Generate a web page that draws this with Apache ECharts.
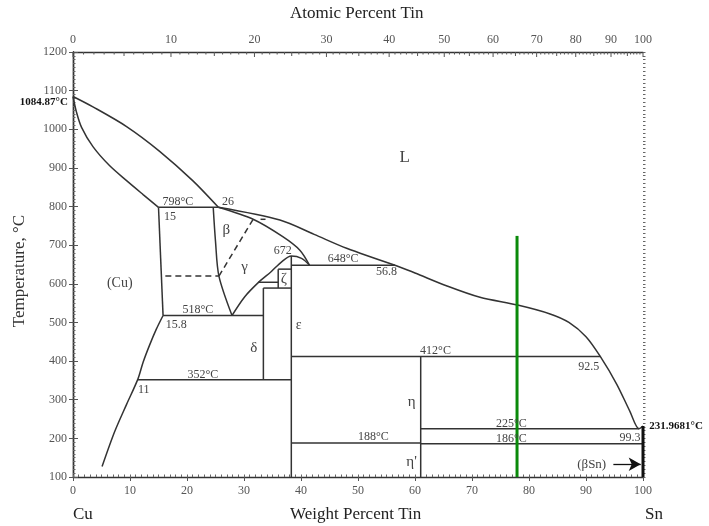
<!DOCTYPE html>
<html><head><meta charset="utf-8">
<script src="https://cdn.jsdelivr.net/npm/echarts@6/dist/echarts.min.js"></script>
<style>html,body{margin:0;padding:0;background:#fff}#c{width:709px;height:526px}</style>
</head><body><div id="c"></div>
<script>
// ---- axes ----
const wtMin = 0, wtMax = 100;
const tMin = 100, tMax = 1200;
const atomicTickLabels = [0,10,20,30,40,50,60,70,80,90,100];
const ATW_SN = 118.71, ATW_CU = 63.546;

// ---- phase boundaries (wt% Sn, °C) ----
const liquidusCu   = [[0,1084.87],[3.5,1058],[9.4,1007],[15.2,943],[21,867],[25.5,798]];
const liquidusMid  = [[25.5,798],[36.3,765],[42.3,728],[48,692],[56.5,648]];
const liquidusSn   = [[56.5,648],[60,628],[65.5,595],[71.4,565],[78,545],[83.7,522],[87,500],[90,463],[92.5,412],[95.4,340],[97.7,270],[99.3,225],[100,231.97]];
const solidusCu    = [[0,1084.87],[0.6,1045],[1.5,1005],[3.5,955],[6.4,906],[9.4,867],[12.3,831],[15,798]];
const alphaSolvusHigh = [[15,798],[15.8,518]];
const alphaSolvusLow  = [[15.8,518],[14.6,482],[13.4,440],[12.3,397],[11.4,354],[9.4,288],[7.3,217],[5.1,127]];
const betaLeft     = [[24.6,798],[25.0,710],[25.6,620],[27.9,518]];
const betaUpper    = [[25.5,798],[31.6,767],[36.8,722],[39.8,687],[41.5,648]];
const gammaDome    = [[27.9,518],[30.1,566],[32.5,603],[34.8,632],[36.6,657],[38.3,672],[40.1,666],[41.5,648]];
const iso798 = [[15,798],[25.5,798]];
const iso648 = [[38.3,648],[56.5,648]];
const iso518 = [[15.8,518],[33.4,518]];
const iso352 = [[11.4,352],[38.3,352]];
const iso412 = [[38.3,412],[92.5,412]];
const iso225 = [[61,225],[99.3,225]];
const iso188 = [[38.3,188],[61,188]];
const iso186 = [[61,186],[100,186]];
const deltaVert = [[33.4,352],[33.4,589]];
const iso589 = [[33.4,589],[38.3,589]];
const iso604 = [[32.5,604],[36,604]];
const zetaVert = [[36,589],[36,638]];
const iso638 = [[36,638],[38.3,638]];
const epsilonVert = [[38.3,100],[38.3,672]];
const etaVert = [[61,100],[61,412]];
const snVert = [[100,100],[100,232]];
const dash620 = [[16.2,620],[25.6,620]];
const dashBetaGamma = [[25.6,620],[31.6,767]];
const dashSmall = [[32.9,767],[34.2,767]];
const greenLine = [[77.9,100],[77.9,724]];
const arrowSn = [[94.8,133],[99.6,133]];

// ---- annotations: text, wt%, °C, font size, weight, align ----
const annotations = [
  ['L',58.2,926,17,'normal','center'],
  ['(Cu)',8.2,601,14,'normal','center'],
  ['β',26.9,739,15,'normal','center'],
  ['γ',30.1,644,15,'normal','center'],
  ['ζ',37.0,612,15,'normal','center'],
  ['δ',31.7,433,15,'normal','center'],
  ['ε',39.6,493,14,'normal','center'],
  ['η',59.4,294,15,'normal','center'],
  ["η'",59.4,139,15,'normal','center'],
  ['(βSn)',91.0,133,13,'normal','center'],
  ['798°C',18.4,813,12,'normal','center'],
  ['26',27.2,813,12,'normal','center'],
  ['15',17.0,774,12,'normal','center'],
  ['672',36.8,686,12,'normal','center'],
  ['648°C',47.4,664,12,'normal','center'],
  ['56.8',55.0,630,12,'normal','center'],
  ['518°C',21.9,532,12,'normal','center'],
  ['15.8',18.1,493,12,'normal','center'],
  ['352°C',22.8,364,12,'normal','center'],
  ['11',12.4,325,12,'normal','center'],
  ['412°C',63.6,426,12,'normal','center'],
  ['92.5',90.5,385,12,'normal','center'],
  ['225°C',76.9,238,12,'normal','center'],
  ['186°C',76.9,200,12,'normal','center'],
  ['188°C',52.7,205,12,'normal','center'],
  ['99.3',97.7,202,12,'normal','center'],
  ['1084.87°C',-0.9,1071,11,'bold','right'],
  ['231.9681°C',101.1,231.97,11,'bold','left']
];

const FONT = '"Liberation Serif","DejaVu Serif",serif';
const LINE = '#333';

function at2wt(a){ return 100*a*ATW_SN/(a*ATW_SN+(100-a)*ATW_CU); }

function lineSeries(data, opts){
  opts = opts || {};
  return {
    type:'line', data:data, symbol:'none', silent:true, animation:false,
    xAxisIndex:0, yAxisIndex:0, clip:false,
    smooth: opts.smooth || false,
    lineStyle:{color: opts.color||LINE, width: opts.width||1.5, type: opts.type||'solid'},
    z: opts.z || 3
  };
}

const series = [
  lineSeries(liquidusCu,{smooth:0.3}),
  lineSeries(liquidusMid,{smooth:0.3}),
  lineSeries(liquidusSn,{smooth:0.3}),
  lineSeries(solidusCu,{smooth:0.3}),
  lineSeries(alphaSolvusHigh),
  lineSeries(alphaSolvusLow,{smooth:0.3}),
  lineSeries(betaLeft,{smooth:0.3}),
  lineSeries(betaUpper,{smooth:0.3}),
  lineSeries(gammaDome,{smooth:0.3}),
  lineSeries(iso798), lineSeries(iso648), lineSeries(iso518), lineSeries(iso352),
  lineSeries(iso412), lineSeries(iso225), lineSeries(iso188), lineSeries(iso186),
  lineSeries(deltaVert), lineSeries(iso589), lineSeries(iso604), lineSeries(zetaVert), lineSeries(iso638),
  lineSeries(epsilonVert), lineSeries(etaVert),
  lineSeries(snVert,{width:3,color:'#111'}),
  lineSeries(dash620,{type:[6,4]}),
  lineSeries(dashBetaGamma,{type:[6,4]}),
  lineSeries(dashSmall,{type:[5,3]}),
  lineSeries(greenLine,{color:'#0a8a0a',width:3,z:5}),
  {
    type:'line', data:[], symbol:'none', silent:true, animation:false,
    markLine:{
      silent:true, animation:false, symbol:['none','arrow'], symbolSize:[10,12],
      label:{show:false}, lineStyle:{color:'#111',width:1.3,type:'solid'},
      data:[[{coord:arrowSn[0]},{coord:arrowSn[1]}]]
    }
  },
  {
    type:'custom', xAxisIndex:0, yAxisIndex:0, silent:true, animation:false, clip:false, z:6,
    data: annotations.map(a=>[a[1],a[2]]),
    renderItem:function(params, api){
      const a = annotations[params.dataIndex];
      const p = api.coord([api.value(0), api.value(1)]);
      return {type:'text', x:p[0], y:p[1], style:{
        text:a[0], fill: a[4]==='bold' ? '#111' : '#444',
        font: a[4]+' '+a[3]+'px '+FONT, align:a[5], verticalAlign:'middle'}};
    }
  },
  {
    type:'custom', xAxisIndex:0, yAxisIndex:0, silent:true, animation:false, clip:false, z:6,
    data: Array.from({length:101},(_,i)=>[i]),
    renderItem:function(params, api){
      const a = api.value(0);
      const p = api.coord([at2wt(a), tMax]);
      const len = (a%10===0) ? 5 : (a%5===0 ? 4 : 2.5);
      const children = [{type:'line', shape:{x1:p[0],y1:p[1],x2:p[0],y2:p[1]+len}, style:{stroke:'#555',lineWidth:1}}];
      if (atomicTickLabels.indexOf(a) >= 0) {
        children.push({type:'text', x:p[0], y:p[1]-12, style:{text:String(a), fill:'#555', font:'12px '+FONT, align:'center', verticalAlign:'middle'}});
      }
      return {type:'group', children:children};
    }
  }
];

const plain = v => String(v);
const baseX = {type:'value', min:wtMin, max:wtMax, splitLine:{show:false}};
const baseY = {type:'value', min:tMin, max:tMax, splitLine:{show:false}};
const option = {
  animation:false,
  backgroundColor:'#fff',
  grid:{left:73, right:66, top:52, bottom:49, containLabel:false, outerBoundsMode:'none'},
  xAxis:[
    Object.assign({}, baseX, {position:'bottom', interval:10,
      axisLine:{show:true,lineStyle:{color:LINE,width:1.4}},
      axisTick:{show:true,inside:false,length:4,lineStyle:{color:'#555'}},
      axisLabel:{show:true,margin:8,fontFamily:FONT,fontSize:12,color:'#555',formatter:plain}}),
    Object.assign({}, baseX, {position:'bottom', interval:1,
      axisLine:{show:false}, axisTick:{show:true,inside:true,length:2.5,lineStyle:{color:'#666'}},
      axisLabel:{show:false}}),
    Object.assign({}, baseX, {position:'top', interval:10,
      axisLine:{show:true,lineStyle:{color:LINE,width:1.4}}, axisTick:{show:false}, axisLabel:{show:false}})
  ],
  yAxis:[
    Object.assign({}, baseY, {position:'left', interval:100,
      axisLine:{show:true,lineStyle:{color:LINE,width:1.4}},
      axisTick:{show:true,inside:false,length:4,lineStyle:{color:'#555'}},
      axisLabel:{show:true,margin:6,fontFamily:FONT,fontSize:12,color:'#555',formatter:plain}}),
    Object.assign({}, baseY, {position:'left', interval:10,
      axisLine:{show:false}, axisTick:{show:true,inside:true,length:2.5,lineStyle:{color:'#666'}},
      axisLabel:{show:false}}),
    Object.assign({}, baseY, {position:'right', interval:100,
      axisLine:{show:true,lineStyle:{color:LINE,width:1.4}},
      axisTick:{show:true,inside:false,length:5,lineStyle:{color:'#555'}}, axisLabel:{show:false}}),
    Object.assign({}, baseY, {position:'right', interval:10,
      axisLine:{show:false}, axisTick:{show:true,inside:false,length:2.5,lineStyle:{color:'#666'}}, axisLabel:{show:false}})
  ],
  graphic:[
    {type:'text', left:290, top:5, style:{text:'Atomic Percent Tin', fill:'#222', font:'17px '+FONT}},
    {type:'text', left:290, top:506, style:{text:'Weight Percent Tin', fill:'#222', font:'17px '+FONT}},
    {type:'text', left:73, top:506, style:{text:'Cu', fill:'#222', font:'17px '+FONT}},
    {type:'text', left:645, top:506, style:{text:'Sn', fill:'#222', font:'17px '+FONT}},
    {type:'text', x:20, y:271, rotation:Math.PI/2, style:{text:'Temperature, °C', fill:'#333', font:'17px '+FONT, align:'center', verticalAlign:'middle'}}
  ],
  series:series
};
const chart = echarts.init(document.getElementById('c'), null, {renderer:'canvas'});
chart.setOption(option);
</script></body></html>
